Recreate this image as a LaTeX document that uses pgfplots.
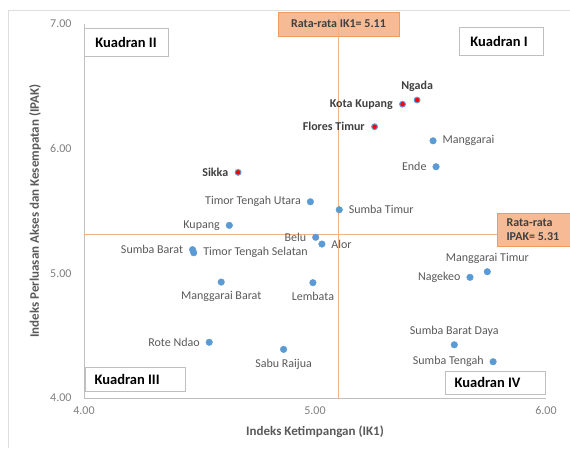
\documentclass[border=0pt]{standalone}
\usepackage{pgfplots}
\pgfplotsset{compat=1.18}
\usepackage{fontspec}
\setmainfont{Carlito}
\definecolor{ptblue}{HTML}{5B9BD5}
\definecolor{lblgray}{HTML}{595959}
\definecolor{boldgray}{HTML}{404040}
\definecolor{tickgray}{HTML}{7F7F7F}
\definecolor{meanline}{HTML}{F4B183}
\definecolor{boxfill}{HTML}{F6BA94}
\definecolor{boxedge}{HTML}{F19A5E}
\definecolor{quadedge}{HTML}{BFBFBF}
\begin{document}
\begin{tikzpicture}
\useasboundingbox (0pt,0pt) rectangle (570pt,448pt);
\draw[color=black!13, line width=0.8pt] (8pt,0pt) -- (8pt,438pt) -- (570pt,438pt);
% mean label IK1 (under the line)
\draw[boxedge, fill=boxfill, line width=0.6pt] (278pt,412pt) rectangle (399pt,436pt);
\node[font=\fontsize{12}{14}\selectfont\bfseries, text=boldgray] at (338.5pt,424pt) {Rata-rata IK1= 5.11};
\begin{axis}[
  at={(84pt,50pt)}, anchor=south west,
  scale only axis, width=462pt, height=374pt,
  xmin=4, xmax=6, ymin=4, ymax=7,
  axis lines=left,
  axis line style={-, color=quadedge, line width=0.8pt},
  xtick={4,5,6}, ytick={4,5,6,7},
  major tick length=0pt,
  /pgf/number format/fixed,
  /pgf/number format/fixed zerofill,
  /pgf/number format/precision=2,
  /pgf/number format/assume math mode=true,
  tick label style={font=\fontsize{12}{14}\selectfont, text=tickgray},
  xticklabel style={yshift=-5pt},
  yticklabel style={xshift=-9pt},
  xlabel={Indeks Ketimpangan (IK1)},
  ylabel={Indeks Perluasan Akses dan Kesempatan (IPAK)},
  label style={font=\fontsize{13}{15}\selectfont\bfseries, text=lblgray},
  xlabel style={at={(axis description cs:0.5,0)}, anchor=center, yshift=-34pt},
  ylabel style={at={(axis description cs:-0.106,0.5)}, anchor=center},
  clip=false,
  nodes near coords,
  point meta=explicit symbolic,
]
\addplot[meanline, line width=1pt, no marks, nodes near coords={}] coordinates {(5.10,4) (5.10,7.1)};
\addplot[meanline, line width=1pt, no marks, nodes near coords={}] coordinates {(4,5.315) (6,5.315)};
% blue points, labels left
\addplot[only marks, mark=*, mark size=3.3pt, color=ptblue,
  nodes near coords style={anchor=east, xshift=-6pt, font=\fontsize{12}{14}\selectfont, text=lblgray}]
  table[meta=label] {
x y label
5.524 5.855 Ende
4.980 5.574 {Timor Tengah Utara}
4.629 5.385 Kupang
5.003 5.289 Belu
4.470 5.190 {Sumba Barat}
5.671 4.968 Nagekeo
5.771 4.291 {Sumba Tengah}
4.542 4.447 {Rote Ndao}
};
% blue points, labels right
\addplot[only marks, mark=*, mark size=3.3pt, color=ptblue,
  nodes near coords style={anchor=west, xshift=6pt, font=\fontsize{12}{14}\selectfont, text=lblgray}]
  table[meta=label] {
x y label
5.511 6.063 Manggarai
5.105 5.510 {Sumba Timur}
5.030 5.235 Alor
4.475 5.165 {Timor Tengah Selatan}
};
% blue points, labels above
\addplot[only marks, mark=*, mark size=3.3pt, color=ptblue,
  nodes near coords style={anchor=south, yshift=5pt, font=\fontsize{12}{14}\selectfont, text=lblgray}]
  table[meta=label] {
x y label
5.746 5.013 {Manggarai Timur}
5.603 4.427 {Sumba Barat Daya}
};
% blue points, labels below
\addplot[only marks, mark=*, mark size=3.3pt, color=ptblue,
  nodes near coords style={anchor=north, yshift=-6pt, font=\fontsize{12}{14}\selectfont, text=lblgray}]
  table[meta=label] {
x y label
4.594 4.930 {Manggarai Barat}
4.991 4.925 Lembata
4.864 4.390 {Sabu Raijua}
};
% red points, labels left
\addplot[only marks, mark=*, mark size=2.9pt, draw=ptblue, fill=red, line width=1pt,
  nodes near coords style={anchor=east, xshift=-6pt, font=\fontsize{12}{14}\selectfont\bfseries, text=boldgray}]
  table[meta=label] {
x y label
5.379 6.357 {Kota Kupang}
5.258 6.176 {Flores Timur}
4.667 5.810 Sikka
};
% red point, label above
\addplot[only marks, mark=*, mark size=2.9pt, draw=ptblue, fill=red, line width=1pt,
  nodes near coords style={anchor=south, yshift=5pt, font=\fontsize{12}{14}\selectfont\bfseries, text=boldgray}]
  table[meta=label] {
x y label
5.442 6.390 Ngada
};
\end{axis}
% mean label IPAK
\draw[boxedge, fill=boxfill, line width=0.6pt] (497pt,202pt) rectangle (576pt,235pt);
\node[font=\fontsize{12}{13.5}\selectfont\bfseries, text=boldgray, align=left, anchor=west] at (503pt,218.5pt) {Rata-rata\\IPAK= 5.31};
% quadrant boxes
\draw[quadedge, fill=white, line width=0.8pt] (84pt,392pt) rectangle (168pt,420pt);
\node[font=\fontsize{14.5}{16}\selectfont\bfseries] at (126pt,406pt) {Kuadran II};
\draw[quadedge, fill=white, line width=0.8pt] (459pt,393pt) rectangle (543pt,421pt);
\node[font=\fontsize{14.5}{16}\selectfont\bfseries] at (499pt,407pt) {Kuadran I};
\draw[quadedge, fill=white, line width=0.8pt] (85pt,57pt) rectangle (185pt,81pt);
\node[font=\fontsize{14.5}{16}\selectfont\bfseries, anchor=west] at (91pt,69pt) {Kuadran III};
\draw[quadedge, fill=white, line width=0.8pt] (445pt,54pt) rectangle (545pt,77pt);
\node[font=\fontsize{14.5}{16}\selectfont\bfseries, anchor=west] at (451pt,65.5pt) {Kuadran IV};
\end{tikzpicture}
\end{document}
